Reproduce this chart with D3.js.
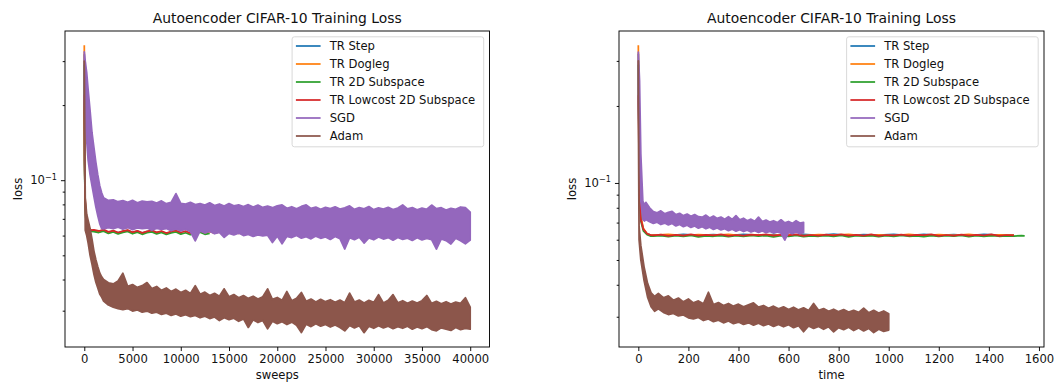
<!DOCTYPE html>
<html>
<head>
<meta charset="utf-8">
<script src="https://cdn.jsdelivr.net/npm/d3@7"></script>
<style>
  body { margin: 0; background: #fff; }
  text { font-family: "DejaVu Sans", sans-serif; fill: #111; }
</style>
</head>
<body>
<svg id="chart" width="1054" height="382"></svg>
<script>
// ---- labels / ticks ----
const legendLabels = ["TR Step", "TR Dogleg", "TR 2D Subspace", "TR Lowcost 2D Subspace", "SGD", "Adam"];
const sweepTicks = [0, 5000, 10000, 15000, 20000, 25000, 30000, 35000, 40000];
const timeTicks = [0, 200, 400, 600, 800, 1000, 1200, 1400, 1600];
const majorLossTicks = [0.01, 0.1, 1];
const minorLossTicks = [0.02, 0.03, 0.04, 0.05, 0.06, 0.07, 0.08, 0.09, 0.2, 0.3, 0.4, 0.5];

// ---- left panel: loss vs sweeps ----
// TR methods, first few sweeps, then every 500 sweeps from 1000
const trSweepsHead = [0, 30, 80, 150, 300, 500, 700];
const trStepHeadL = [0.32, 0.118, 0.084, 0.071, 0.0662, 0.0638, 0.0629];
const trDoglegHeadL = [0.347, 0.12, 0.085, 0.072, 0.0664, 0.064, 0.063];
const tr2dHeadL = [0.29, 0.115, 0.083, 0.0705, 0.0658, 0.0634, 0.0624];
const trLowHeadL = [0.22, 0.12, 0.086, 0.0725, 0.0666, 0.0642, 0.0631];
const trStepTailL = [0.0628, 0.0622, 0.063, 0.0618, 0.0626, 0.0615, 0.0624, 0.0629, 0.0617, 0.0625, 0.0614, 0.0622, 0.0627, 0.0616, 0.062];
const trDoglegTailL = [0.0626, 0.062, 0.0629, 0.0616, 0.0624, 0.0613, 0.0622, 0.0628, 0.0615, 0.0623, 0.0612, 0.0621, 0.0626, 0.0614, 0.0622, 0.0611, 0.062, 0.0625, 0.0616];
const tr2dTailL = [0.0622, 0.0617, 0.0625, 0.0612, 0.062, 0.0609, 0.0618, 0.0623, 0.061, 0.0619,
  0.0607, 0.0616, 0.0621, 0.0609, 0.0617, 0.0606, 0.0615, 0.062, 0.0608, 0.0616,
  0.0605, 0.0614, 0.0619, 0.0607, 0.0612];
const trLowTailL = [0.0632, 0.0626, 0.0634, 0.0621, 0.0628, 0.0617, 0.0625, 0.0631, 0.0619, 0.0627,
  0.0615, 0.0624, 0.063, 0.0618, 0.0626, 0.0614, 0.0623, 0.0629, 0.0617, 0.0625,
  0.0613, 0.0622, 0.0628, 0.0616, 0.0624, 0.0614, 0.0621, 0.0627, 0.0615, 0.0623,
  0.0612, 0.062, 0.0626, 0.0614, 0.0622, 0.0613, 0.0619];

// SGD / Adam are very noisy: low and high envelope per bin
const bandSweepsHead = [0, 100, 250, 400, 600, 800, 1000, 1200, 1400, 1600, 1800];
const sgdLoHeadL = [0.21, 0.17, 0.144, 0.12, 0.105, 0.095, 0.086, 0.078, 0.072, 0.067, 0.064];
const sgdHiHeadL = [0.327, 0.30, 0.27, 0.23, 0.19, 0.155, 0.135, 0.118, 0.105, 0.095, 0.089];
const adamLoHeadL = [0.20, 0.063, 0.060, 0.056, 0.050, 0.046, 0.042, 0.039, 0.037, 0.035, 0.034];
const adamHiHeadL = [0.30, 0.085, 0.073, 0.069, 0.064, 0.058, 0.052, 0.048, 0.045, 0.0425, 0.041];
// every 500 sweeps from 2000 to 40000
const sgdHiL = [0.085, 0.083, 0.0835, 0.082, 0.0828, 0.0815, 0.083, 0.0812, 0.0825, 0.0818,
  0.0822, 0.081, 0.0826, 0.0805, 0.0815, 0.0884, 0.0808, 0.0802, 0.0815, 0.0798,
  0.0806, 0.0795, 0.0812, 0.0792, 0.0803, 0.0788, 0.0806, 0.079, 0.0796, 0.0784,
  0.0798, 0.078, 0.0795, 0.0778, 0.0788, 0.0776, 0.079, 0.0796, 0.0772, 0.0783,
  0.0768, 0.0785, 0.0796, 0.0771, 0.078, 0.0765, 0.0778, 0.0769, 0.0782, 0.0766,
  0.0775, 0.0789, 0.0764, 0.0776, 0.0768, 0.0784, 0.0762, 0.0775, 0.0766, 0.0779,
  0.0763, 0.0774, 0.0796, 0.0768, 0.0777, 0.0761, 0.0773, 0.0765, 0.0795, 0.0769,
  0.0776, 0.076, 0.0772, 0.0764, 0.0781, 0.0776, 0.0745];
const sgdLoL = [0.0638, 0.0645, 0.064, 0.0648, 0.0637, 0.0646, 0.0634, 0.0644, 0.0639, 0.0643,
  0.063, 0.0641, 0.0635, 0.064, 0.0628, 0.0638, 0.0626, 0.0636, 0.0622, 0.0572,
  0.0626, 0.0615, 0.0625, 0.061, 0.0618, 0.059, 0.0612, 0.0604, 0.0614, 0.06,
  0.0606, 0.0595, 0.0604, 0.0598, 0.0602, 0.0563, 0.0597, 0.0556, 0.0596, 0.0589,
  0.06, 0.0586, 0.0594, 0.0582, 0.0597, 0.0585, 0.0592, 0.0579, 0.0595, 0.0583,
  0.053, 0.0588, 0.0578, 0.0591, 0.056, 0.0587, 0.0577, 0.0592, 0.0581, 0.0589,
  0.0575, 0.059, 0.0579, 0.0586, 0.0574, 0.0588, 0.0576, 0.0584, 0.0578, 0.053,
  0.0582, 0.0573, 0.0555, 0.0585, 0.0572, 0.0556, 0.0575];
const adamHiL = [0.040, 0.0388, 0.0384, 0.0395, 0.0424, 0.0376, 0.0382, 0.0372, 0.0378, 0.0389,
  0.0368, 0.0375, 0.0362, 0.037, 0.0358, 0.0366, 0.0355, 0.0362, 0.0352, 0.0378,
  0.0349, 0.0356, 0.0345, 0.0352, 0.0343, 0.0367, 0.0341, 0.0348, 0.0338, 0.0345,
  0.0336, 0.0343, 0.0334, 0.0341, 0.0367, 0.0333, 0.0339, 0.033, 0.0358, 0.0329,
  0.0336, 0.0355, 0.0327, 0.0334, 0.0325, 0.0333, 0.0326, 0.0332, 0.0324, 0.0331,
  0.0323, 0.0353, 0.0325, 0.0331, 0.0322, 0.033, 0.0324, 0.0348, 0.0322, 0.033,
  0.0348, 0.0323, 0.0329, 0.0321, 0.0328, 0.0322, 0.0329, 0.0345, 0.0321, 0.0327,
  0.032, 0.0326, 0.0319, 0.0325, 0.0321, 0.0338, 0.031];
const adamLoL = [0.0328, 0.0316, 0.031, 0.0306, 0.0303, 0.0306, 0.0299, 0.0302, 0.0296, 0.0299,
  0.0293, 0.0296, 0.029, 0.0293, 0.0287, 0.0291, 0.0285, 0.0289, 0.0284, 0.0287,
  0.0281, 0.0285, 0.0279, 0.0283, 0.0274, 0.0281, 0.0276, 0.028, 0.0272, 0.0278,
  0.0257, 0.0276, 0.0269, 0.0274, 0.0254, 0.0272, 0.0266, 0.0271, 0.0264, 0.027,
  0.0262, 0.0245, 0.0265, 0.0259, 0.0266, 0.026, 0.0264, 0.0258, 0.0263, 0.0257,
  0.0249, 0.0262, 0.0256, 0.0261, 0.0245, 0.026, 0.0255, 0.0261, 0.0256, 0.026,
  0.0254, 0.0259, 0.0255, 0.026, 0.0253, 0.0258, 0.0254, 0.0259, 0.0252, 0.0249,
  0.0256, 0.0253, 0.025, 0.0257, 0.0252, 0.0255, 0.0253];

// ---- right panel: loss vs time ----
const trTimeHead = [0, 4, 10, 20, 35, 50];
const trStepHeadR = [0.32, 0.105, 0.073, 0.066, 0.0632, 0.0625];
const trDoglegHeadR = [0.345, 0.11, 0.074, 0.0665, 0.0633, 0.0626];
const tr2dHeadR = [0.29, 0.1, 0.071, 0.065, 0.0628, 0.062];
const trLowHeadR = [0.22, 0.10, 0.072, 0.066, 0.0633, 0.0625];
// every 60 time units from 60
const trStepTailR = [0.0627, 0.0623, 0.0629, 0.0624, 0.0628, 0.0622, 0.063, 0.0625, 0.0628, 0.0623, 0.0629, 0.0624, 0.0631,
  0.0622, 0.0628, 0.0625, 0.0629, 0.0623, 0.063, 0.0624, 0.0628, 0.0622, 0.0629, 0.0625, 0.0627];
const trDoglegTailR = [0.0625, 0.0629, 0.0622, 0.0628, 0.0624, 0.063, 0.0621, 0.0627, 0.0624, 0.0629, 0.0622, 0.0628, 0.0625,
  0.063, 0.0621, 0.0627, 0.0623, 0.0629, 0.0622, 0.0628, 0.0624, 0.0629, 0.0621, 0.0627, 0.0625];
// every 30 time units from 60
const tr2dTailR = [0.0619, 0.0623, 0.0617, 0.0622, 0.0618, 0.0624, 0.0616, 0.0621, 0.0619, 0.0623,
  0.0617, 0.0622, 0.0618, 0.0624, 0.0619, 0.0623, 0.0616, 0.0622, 0.0618, 0.0624,
  0.0617, 0.0621, 0.0619, 0.0623, 0.0618, 0.0624, 0.0616, 0.0622, 0.0619, 0.0623,
  0.0617, 0.0622, 0.0618, 0.0624, 0.0619, 0.0621, 0.0617, 0.0623, 0.0618, 0.0622,
  0.0619, 0.0624, 0.0617, 0.0622, 0.0618, 0.0623, 0.0619, 0.0621, 0.062, 0.0622];
const tr2dEndTime = [1543];
const tr2dEndR = [0.0621];
const trLowTailR = [0.0624, 0.0628, 0.0621, 0.0627, 0.0623, 0.063, 0.0622, 0.0627, 0.0624, 0.0629,
  0.0621, 0.0626, 0.0623, 0.0628, 0.0625, 0.063, 0.0622, 0.0627, 0.0624, 0.0629,
  0.0621, 0.0626, 0.0623, 0.0628, 0.0624, 0.063, 0.0622, 0.0627, 0.0623, 0.0629,
  0.0621, 0.0626, 0.0624, 0.0628, 0.0622, 0.0627, 0.0625, 0.0629, 0.0621, 0.0626,
  0.0623, 0.0628, 0.0622, 0.0627, 0.0624, 0.0629, 0.0621, 0.0626, 0.0624];

const sgdTimeHead = [0, 5, 10, 18, 25];
const sgdLoHeadR = [0.22, 0.12, 0.085, 0.072, 0.071];
const sgdHiHeadR = [0.325, 0.25, 0.13, 0.085, 0.082];
// every 15 time units from 30
const sgdHiR = [0.084, 0.080, 0.0772, 0.0765, 0.0778, 0.0758, 0.0768, 0.0775, 0.0752, 0.0761,
  0.0745, 0.0756, 0.0741, 0.0752, 0.0738, 0.0735, 0.0749, 0.073, 0.0742, 0.0727,
  0.0736, 0.0722, 0.0738, 0.072, 0.0745, 0.0718, 0.0728, 0.0712, 0.0722, 0.0708,
  0.0735, 0.0706, 0.0716, 0.0703, 0.0712, 0.07, 0.0718, 0.0698, 0.0707, 0.0695,
  0.0712, 0.0697, 0.0702];
const sgdLoR = [0.072, 0.0705, 0.0695, 0.0702, 0.0688, 0.0697, 0.0685, 0.0694, 0.0679, 0.0688,
  0.0675, 0.0684, 0.067, 0.0679, 0.0666, 0.0675, 0.0662, 0.0671, 0.0658, 0.0667,
  0.0655, 0.0663, 0.0651, 0.066, 0.0648, 0.0657, 0.0646, 0.0654, 0.0643, 0.0651,
  0.0641, 0.0649, 0.0639, 0.0646, 0.0637, 0.0644, 0.0636, 0.0598, 0.0641, 0.0634,
  0.0642, 0.0633, 0.064];

const adamTimeHead = [0, 3, 10, 23, 37, 51, 65];
const adamLoHeadR = [0.20, 0.060, 0.050, 0.0415, 0.0358, 0.0328, 0.0315];
const adamHiHeadR = [0.30, 0.068, 0.057, 0.047, 0.0405, 0.0372, 0.036];
// every 20 time units from 80
const adamHiR = [0.037, 0.0356, 0.0362, 0.0348, 0.0355, 0.0343, 0.0352, 0.034, 0.0346, 0.0337,
  0.0374, 0.0335, 0.0341, 0.0332, 0.0338, 0.033, 0.0336, 0.0328, 0.0334, 0.034,
  0.0327, 0.0332, 0.0324, 0.033, 0.0322, 0.0328, 0.032, 0.0327, 0.0319, 0.0325,
  0.0317, 0.0338, 0.0318, 0.0323, 0.0315, 0.0321, 0.0314, 0.032, 0.0313, 0.0318,
  0.0312, 0.0324, 0.0311, 0.0318, 0.031, 0.0316, 0.0308];
const adamLoR = [0.0322, 0.0312, 0.0306, 0.0309, 0.0302, 0.0305, 0.0297, 0.0294, 0.0298, 0.029,
  0.0294, 0.0287, 0.0291, 0.0284, 0.0289, 0.0282, 0.0286, 0.028, 0.0284, 0.0278,
  0.0283, 0.0277, 0.0281, 0.0275, 0.028, 0.0274, 0.0279, 0.0272, 0.0277, 0.0262,
  0.0276, 0.027, 0.0275, 0.0268, 0.0274, 0.0262, 0.0272, 0.0267, 0.0273, 0.0265,
  0.0271, 0.0264, 0.027, 0.026, 0.0268, 0.0263, 0.0266];

// ---- assemble ----
var colors = ["#1f77b4", "#ff7f0e", "#2ca02c", "#d62728", "#9467bd", "#8c564b"];

function grid(start, step, vals) { return vals.map(function(_, i) { return start + i * step; }); }

function line(name, hx, hy, start, step, tail, ex, ey) {
    return {name: name, kind: "line",
        x: hx.concat(grid(start, step, tail), ex || []), y: hy.concat(tail, ey || [])};
}
function band(name, hx, hlo, hhi, start, step, lo, hi) {
    return {name: name, kind: "band",
        x: hx.concat(grid(start, step, lo)), lo: hlo.concat(lo), hi: hhi.concat(hi)};
}

var panels = [
    {left: 65, right: 489.5, xlabel: "sweeps", ticks: sweepTicks, series: [
        line("TR Step", trSweepsHead, trStepHeadL, 1000, 500, trStepTailL),
        line("TR Dogleg", trSweepsHead, trDoglegHeadL, 1000, 500, trDoglegTailL),
        line("TR 2D Subspace", trSweepsHead, tr2dHeadL, 1000, 500, tr2dTailL),
        line("TR Lowcost 2D Subspace", trSweepsHead, trLowHeadL, 1000, 500, trLowTailL),
        band("SGD", bandSweepsHead, sgdLoHeadL, sgdHiHeadL, 2000, 500, sgdLoL, sgdHiL),
        band("Adam", bandSweepsHead, adamLoHeadL, adamHiHeadL, 2000, 500, adamLoL, adamHiL)
    ]},
    {left: 619, right: 1044, xlabel: "time", ticks: timeTicks, series: [
        line("TR Step", trTimeHead, trStepHeadR, 60, 60, trStepTailR),
        line("TR Dogleg", trTimeHead, trDoglegHeadR, 60, 60, trDoglegTailR),
        line("TR 2D Subspace", trTimeHead, tr2dHeadR, 60, 30, tr2dTailR, tr2dEndTime, tr2dEndR),
        line("TR Lowcost 2D Subspace", trTimeHead, trLowHeadR, 60, 30, trLowTailR),
        band("SGD", sgdTimeHead, sgdLoHeadR, sgdHiHeadR, 30, 15, sgdLoR, sgdHiR),
        band("Adam", adamTimeHead, adamLoHeadR, adamHiHeadR, 80, 20, adamLoR, adamHiR)
    ]}
];

function drawCharts() {
    var axTop = 31, axBottom = 347, fs = 11.6, lw = 1.74, spineW = 0.93;
    var svg = d3.select("#chart");

    panels.forEach(function(p, pi) {
        var g = svg.append("g");
        var xs = [], ys = [];
        p.series.forEach(function(s) {
            xs = xs.concat(s.x);
            ys = ys.concat(s.kind == "line" ? s.y : s.lo.concat(s.hi));
        });
        var xe = d3.extent(xs), le = d3.extent(ys, function(v) { return Math.log10(v); });
        var xr = xe[1] - xe[0], lr = le[1] - le[0];

        var x = d3.scaleLinear().domain([xe[0] - 0.05 * xr, xe[1] + 0.05 * xr]).range([p.left, p.right]);
        var y = d3.scaleLog()
            .domain([Math.pow(10, le[0] - 0.05 * lr), Math.pow(10, le[1] + 0.05 * lr)])
            .range([axBottom, axTop]);

        svg.append("clipPath").attr("id", "clip" + pi)
            .append("rect").attr("x", p.left).attr("y", axTop)
            .attr("width", p.right - p.left).attr("height", axBottom - axTop);

        var plot = g.append("g").attr("clip-path", "url(#clip" + pi + ")");
        p.series.forEach(function(s) {
            var c = colors[legendLabels.indexOf(s.name)];
            var idx = d3.range(s.x.length);
            if (s.kind == "line") {
                plot.append("path")
                    .attr("d", d3.line().x(function(i) { return x(s.x[i]); }).y(function(i) { return y(s.y[i]); })(idx))
                    .attr("fill", "none").attr("stroke", c).attr("stroke-width", lw)
                    .attr("stroke-linejoin", "round");
            } else {
                plot.append("path")
                    .attr("d", d3.area().x(function(i) { return x(s.x[i]); })
                        .y0(function(i) { return y(s.lo[i]); }).y1(function(i) { return y(s.hi[i]); })(idx))
                    .attr("fill", c).attr("stroke", c).attr("stroke-width", lw)
                    .attr("stroke-linejoin", "round");
            }
        });

        // x axis
        var xa = g.append("g").attr("transform", "translate(0," + axBottom + ")")
            .call(d3.axisBottom(x).tickValues(p.ticks).tickSize(4.05).tickPadding(4.05).tickFormat(d3.format("d")));
        // y axis, minor then major
        var inRange = function(v) { return v > y.domain()[0] && v < y.domain()[1]; };
        var ymin = g.append("g").attr("transform", "translate(" + p.left + ",0)")
            .call(d3.axisLeft(y).tickValues(minorLossTicks.filter(inRange)).tickSize(2.3).tickFormat(""));
        var majors = majorLossTicks.filter(inRange);
        var ymaj = g.append("g").attr("transform", "translate(" + p.left + ",0)")
            .call(d3.axisLeft(y).tickValues(majors).tickSize(4.05).tickFormat(""));
        [xa, ymin, ymaj].forEach(function(a) {
            a.select(".domain").remove();
            a.selectAll("line").attr("stroke", "#000").attr("stroke-width", spineW);
            a.selectAll("text").attr("font-size", fs + "px").attr("font-family", "DejaVu Sans").attr("fill", "#111");
        });
        majors.forEach(function(v) {
            var t = g.append("text").attr("x", p.left - 8.1).attr("y", y(v) + 4.2)
                .attr("text-anchor", "end").attr("font-size", fs + "px");
            t.append("tspan").text("10");
            t.append("tspan").attr("font-size", (fs * 0.7) + "px").attr("dy", -4.8)
                .text("\u2212" + Math.round(-Math.log10(v)));
        });

        // frame
        g.append("rect").attr("x", p.left).attr("y", axTop)
            .attr("width", p.right - p.left).attr("height", axBottom - axTop)
            .attr("fill", "none").attr("stroke", "#000").attr("stroke-width", spineW);

        // labels
        var cx = (p.left + p.right) / 2;
        g.append("text").attr("x", cx).attr("y", 22.7).attr("text-anchor", "middle")
            .attr("font-size", "13.9px").text("Autoencoder CIFAR-10 Training Loss");
        g.append("text").attr("x", cx).attr("y", 379).attr("text-anchor", "middle")
            .attr("font-size", fs + "px").text(p.xlabel);
        g.append("text").attr("transform", "translate(" + (p.left - 43.5) + "," + ((axTop + axBottom) / 2) + ") rotate(-90)")
            .attr("text-anchor", "middle").attr("font-size", fs + "px").text("loss");

        // legend
        var lgW = 191.6, lgH = 110;
        var lx = p.right - 5.8 - lgW, ly = axTop + 5.8;
        var lg = g.append("g");
        lg.append("rect").attr("x", lx).attr("y", ly).attr("width", lgW).attr("height", lgH)
            .attr("rx", 2.3).attr("fill", "#fff").attr("fill-opacity", 0.8)
            .attr("stroke", "#d6d6d6").attr("stroke-width", spineW);
        var rows = lg.selectAll(".row").data(legendLabels).enter().append("g")
            .attr("transform", function(d, i) { return "translate(0," + (ly + 9.2 + i * 18) + ")"; });
        rows.append("line").attr("x1", lx + 3.8).attr("x2", lx + 28.5)
            .attr("stroke", function(d, i) { return colors[i]; }).attr("stroke-width", lw);
        rows.append("text").attr("x", lx + 37.6).attr("dy", "0.36em")
            .attr("font-size", fs + "px").text(function(d) { return d; });
    });
}

drawCharts();
</script>
</body>
</html>
